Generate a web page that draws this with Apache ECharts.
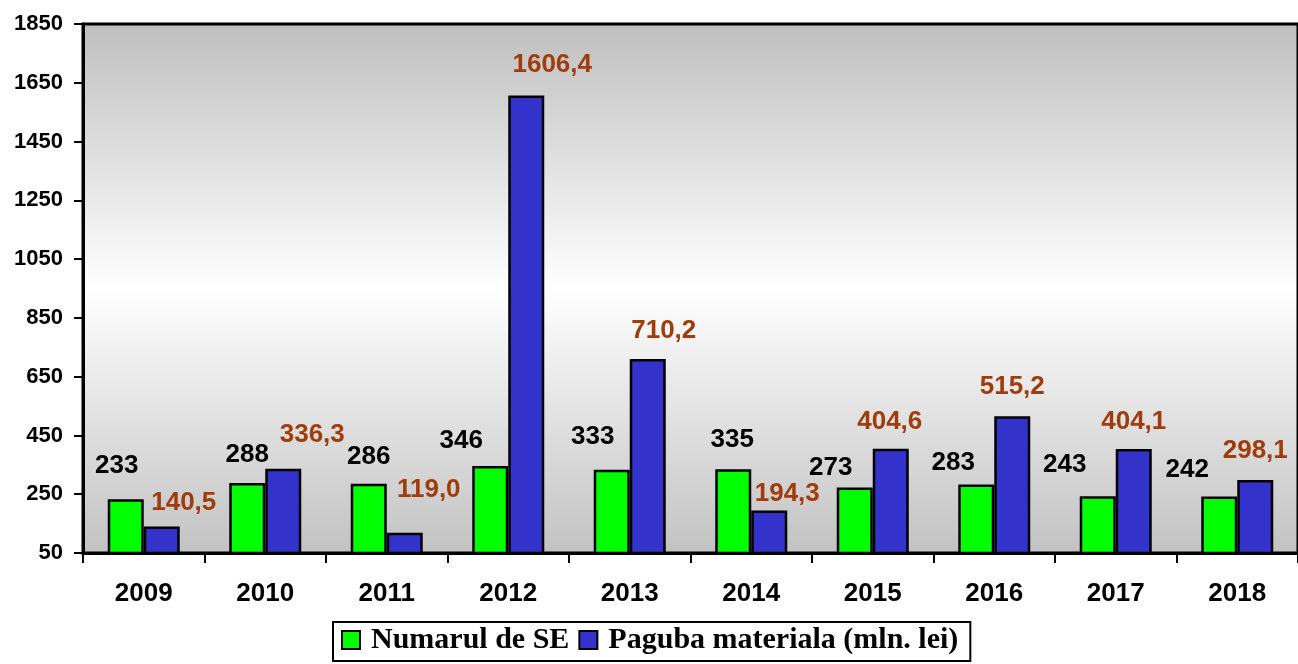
<!DOCTYPE html>
<html>
<head>
<meta charset="utf-8">
<script src="https://cdn.jsdelivr.net/npm/echarts@6/dist/echarts.min.js"></script>
<style>
  html, body { margin: 0; padding: 0; background: #fff; }
  #chart { width: 1298px; height: 664px; }
</style>
</head>
<body>
<div id="chart"></div>
<script>
const years = ['2009', '2010', '2011', '2012', '2013', '2014', '2015', '2016', '2017', '2018']
const numarulSE = [233, 288, 286, 346, 333, 335, 273, 283, 243, 242]
const paguba = [140.5, 336.3, 119.0, 1606.4, 710.2, 194.3, 404.6, 515.2, 404.1, 298.1]
const yTicks = [50, 250, 450, 650, 850, 1050, 1250, 1450, 1650, 1850]

// label nudges, copied from where the original puts them (px from bar top centre)
const seShift = [[-9, -33], [0, -28], [0, -27], [-29, -25], [-19, -33], [-1, -29], [-24, -20], [-23, -22], [-33, -31], [-32, -27]]
const pagShift = [[22, -24], [29, -34], [24, -43], [26, -31], [16, -28], [18, -17], [-1, -27], [0, -29], [0, -27], [0, -29]]

const fmt = v => v.toFixed(1).replace('.', ',')

const chart = echarts.init(document.getElementById('chart'))

function withLabels(values, shifts, formatter) {
  return values.map((v, i) => ({
    value: v,
    label: { offset: [shifts[i][0], shifts[i][1] + 13], formatter: formatter(v) }
  }))
}

chart.setOption({
  animation: false,
  grid: {
    left: 83, top: 24, width: 1219, height: 529,
    show: true,
    borderColor: '#000', borderWidth: 3,
    backgroundColor: new echarts.graphic.LinearGradient(0, 0, 0, 1, [
      { offset: 0, color: '#bfbfbf' },
      { offset: 0.5, color: '#ffffff' },
      { offset: 1, color: '#c2c2c2' }
    ])
  },
  legend: {
    left: 333, top: 622,
    padding: [3, 12, 6, 8],
    itemGap: 9,
    itemWidth: 18, itemHeight: 18,
    backgroundColor: '#fff',
    borderColor: '#000', borderWidth: 2,
    textStyle: {
      fontFamily: '"Liberation Serif", serif', fontWeight: 'bold', fontSize: 30, color: '#000',
      padding: [0, 0, 0, 6]
    },
    data: [
      { name: 'Numarul de SE', icon: 'rect' },
      { name: 'Paguba materiala (mln. lei)', icon: 'rect' }
    ]
  },
  xAxis: {
    type: 'category',
    data: years,
    axisLine: { lineStyle: { color: '#000', width: 3 } },
    axisTick: { show: true, length: 10, lineStyle: { color: '#000', width: 2 } },
    axisLabel: {
      margin: 28, color: '#000', fontSize: 26, fontWeight: 'bold',
      fontFamily: '"Liberation Sans", Arial, sans-serif'
    }
  },
  yAxis: {
    type: 'value',
    min: yTicks[0], max: yTicks[yTicks.length - 1], interval: 200,
    axisLine: { show: true, lineStyle: { color: '#000', width: 3 } },
    axisTick: { show: true, length: 9, lineStyle: { color: '#000', width: 2 } },
    splitLine: { show: false },
    axisLabel: {
      margin: 20, color: '#000', fontSize: 22, fontWeight: 'bold',
      fontFamily: '"Liberation Sans", Arial, sans-serif',
      formatter: v => String(v)
    }
  },
  series: [
    {
      name: 'Numarul de SE',
      type: 'bar',
      barWidth: 36,
      barGap: '0%',
      itemStyle: { color: '#00ff00', borderColor: '#000', borderWidth: 2.5 },
      label: {
        show: true, position: 'top', distance: 0,
        color: '#000', fontSize: 26, fontWeight: 'bold',
        fontFamily: '"Liberation Sans", Arial, sans-serif'
      },
      data: withLabels(numarulSE, seShift, v => String(v))
    },
    {
      name: 'Paguba materiala (mln. lei)',
      type: 'bar',
      barWidth: 36,
      barGap: '0%',
      itemStyle: { color: '#3333cc', borderColor: '#000', borderWidth: 2.5 },
      label: {
        show: true, position: 'top', distance: 0,
        color: '#a03c0c', fontSize: 26, fontWeight: 'bold',
        fontFamily: '"Liberation Sans", Arial, sans-serif'
      },
      data: withLabels(paguba, pagShift, fmt)
    }
  ]
})

window.addEventListener('resize', () => chart.resize())
</script>
</body>
</html>
